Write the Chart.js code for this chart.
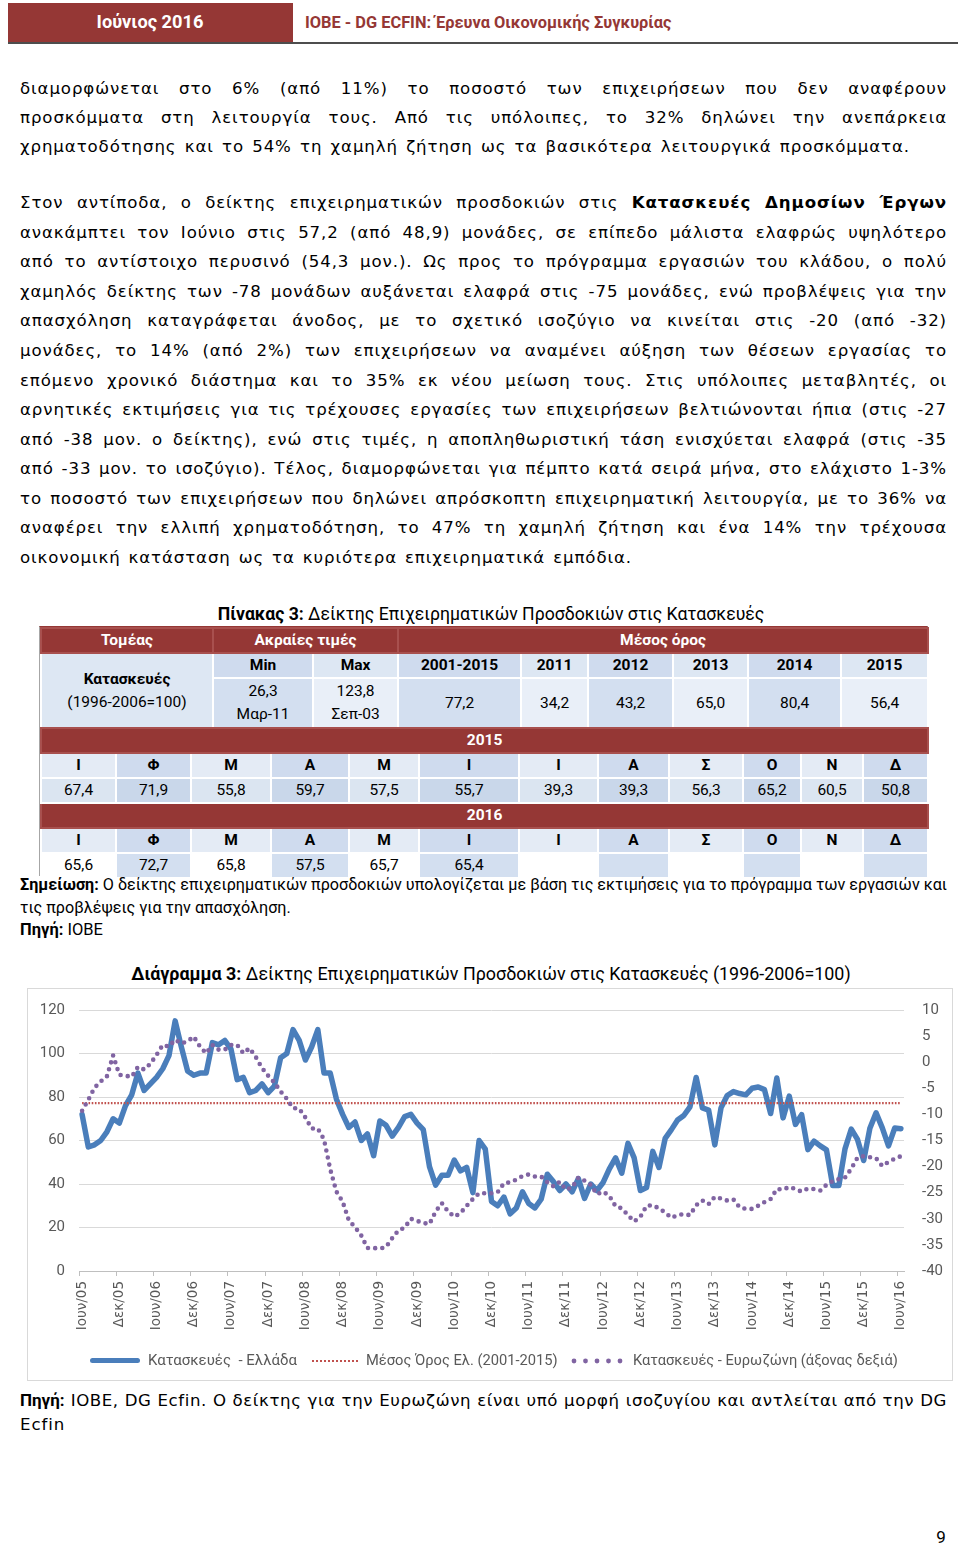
<!DOCTYPE html>
<html><head><meta charset="utf-8">
<script src="https://cdn.jsdelivr.net/npm/chart.js@4.4.1/dist/chart.umd.min.js"></script>
<style>
html,body{margin:0;padding:0}
body{width:960px;height:1548px;position:relative;background:#fff;overflow:hidden;color:#000}
.abs{position:absolute}
.fit{position:absolute;display:inline-block;white-space:nowrap;line-height:1}
.ln{position:absolute;left:20px;width:927px;line-height:30px;height:auto;font-family:"DejaVu Sans";font-size:16.6px;text-align:justify;text-align-last:justify;white-space:normal}
.ln.last{text-align:left;text-align-last:justify}
.tb{position:absolute;left:40px;border-collapse:collapse;table-layout:fixed;width:887px;font-family:Roboto;font-size:15.5px;color:#000}
.tb td{border:2px solid #fff;padding:0;text-align:center;vertical-align:middle;line-height:23px;overflow:hidden;white-space:nowrap}
.tb td.rd{background:#953735;color:#fff;font-weight:bold;border-color:#a8504e}
.b{font-weight:bold}
.h2l{background:#dde7f3}.h2d{background:#cfdbee}
.v3l{background:#e9eff8}.v3d{background:#d3dff0}
.ll{background:#e4ebf5}.ld{background:#cfdbee}
.a5l{background:#dbe5f1}.a5d{background:#c9d7ea}
.a6l{background:#ffffff}.a6d{background:#d3dff0}
.leg{font-family:Roboto;color:#595959}
</style></head>
<body>
<!-- header -->
<div class="abs" style="left:8px;top:3px;width:285px;height:40px;background:#953735"></div>
<div class="abs" style="left:8px;top:42px;width:950px;height:2px;background:#4d4d4d"></div>
<div class="fit" data-cx="150" data-cy="23" data-w="107" style="color:#fff;font-family:Roboto;font-weight:bold;font-size:19px">Ιούνιος 2016</div>
<div class="fit" data-x="305" data-cy="24" data-w="367" style="color:#953735;font-family:Roboto;font-weight:bold;font-size:17px">ΙΟΒΕ - DG ECFIN: Έρευνα Οικονομικής Συγκυρίας</div>

<!-- paragraph 1 -->
<div class="ln" data-cy="89">διαμορφώνεται στο 6% (από 11%) το ποσοστό των επιχειρήσεων που δεν αναφέρουν</div>
<div class="ln" data-cy="118">προσκόμματα στη λειτουργία τους. Από τις υπόλοιπες, το 32% δηλώνει την ανεπάρκεια</div>
<div class="ln last" data-cy="147" style="width:890px">χρηματοδότησης και το 54% τη χαμηλή ζήτηση ως τα βασικότερα λειτουργικά προσκόμματα.</div>

<!-- paragraph 2 -->
<div class="ln" data-cy="203">Στον αντίποδα, ο δείκτης επιχειρηματικών προσδοκιών στις <b>Κατασκευές Δημοσίων Έργων</b></div>
<div class="ln" data-cy="232.6">ανακάμπτει τον Ιούνιο στις 57,2 (από 48,9) μονάδες, σε επίπεδο μάλιστα ελαφρώς υψηλότερο</div>
<div class="ln" data-cy="262.2">από το αντίστοιχο περυσινό (54,3 μον.). Ως προς το πρόγραμμα εργασιών του κλάδου, ο πολύ</div>
<div class="ln" data-cy="291.7">χαμηλός δείκτης των -78 μονάδων αυξάνεται ελαφρά στις -75 μονάδες, ενώ προβλέψεις για την</div>
<div class="ln" data-cy="321.3">απασχόληση καταγράφεται άνοδος, με το σχετικό ισοζύγιο να κινείται στις -20 (από -32)</div>
<div class="ln" data-cy="350.9">μονάδες, το 14% (από 2%) των επιχειρήσεων να αναμένει αύξηση των θέσεων εργασίας το</div>
<div class="ln" data-cy="380.5">επόμενο χρονικό διάστημα και το 35% εκ νέου μείωση τους. Στις υπόλοιπες μεταβλητές, οι</div>
<div class="ln" data-cy="410.1">αρνητικές εκτιμήσεις για τις τρέχουσες εργασίες των επιχειρήσεων βελτιώνονται ήπια (στις -27</div>
<div class="ln" data-cy="439.6">από -38 μον. ο δείκτης), ενώ στις τιμές, η αποπληθωριστική τάση ενισχύεται ελαφρά (στις -35</div>
<div class="ln" data-cy="469.2">από -33 μον. το ισοζύγιο). Τέλος, διαμορφώνεται για πέμπτο κατά σειρά μήνα, στο ελάχιστο 1-3%</div>
<div class="ln" data-cy="498.8">το ποσοστό των επιχειρήσεων που δηλώνει απρόσκοπτη επιχειρηματική λειτουργία, με το 36% να</div>
<div class="ln" data-cy="528.4">αναφέρει την ελλιπή χρηματοδότηση, το 47% τη χαμηλή ζήτηση και ένα 14% την τρέχουσα</div>
<div class="ln last" data-cy="558" style="width:612px">οικονομική κατάσταση ως τα κυριότερα επιχειρηματικά εμπόδια.</div>

<!-- table title -->
<div class="fit" data-cx="491" data-cy="616" data-w="547" style="font-family:Roboto;font-size:17px"><b>Πίνακας 3:</b> Δείκτης Επιχειρηματικών Προσδοκιών στις Κατασκευές</div>

<!-- table -->
<div class="abs" style="left:39px;top:626px;width:887px;height:248px;border:1px solid #a6a6a6;border-top-color:#953735"></div>
<table class="tb" style="top:627px">
<colgroup><col style="width:172px"><col style="width:100px"><col style="width:85px"><col style="width:123px"><col style="width:67px"><col style="width:85px"><col style="width:75px"><col style="width:93px"><col style="width:87px"></colgroup>
<tr style="height:24px"><td class="rd">Τομέας</td><td class="rd" colspan="2">Ακραίες τιμές</td><td class="rd" colspan="6">Μέσος όρος</td></tr>
<tr style="height:25px"><td class="h2l" rowspan="2"><b>Κατασκευές</b><br>(1996-2006=100)</td><td class="h2d b">Min</td><td class="h2l b">Max</td><td class="h2d b">2001-2015</td><td class="h2l b">2011</td><td class="h2d b">2012</td><td class="h2l b">2013</td><td class="h2d b">2014</td><td class="h2l b">2015</td></tr>
<tr style="height:50px"><td class="v3d">26,3<br>Μαρ-11</td><td class="v3l">123,8<br>Σεπ-03</td><td class="v3d">77,2</td><td class="v3l">34,2</td><td class="v3d">43,2</td><td class="v3l">65,0</td><td class="v3d">80,4</td><td class="v3l">56,4</td></tr>
</table>
<table class="tb" style="top:727px">
<colgroup><col style="width:75px"><col style="width:75px"><col style="width:80px"><col style="width:78px"><col style="width:70px"><col style="width:100px"><col style="width:79px"><col style="width:71px"><col style="width:74px"><col style="width:58px"><col style="width:62px"><col style="width:65px"></colgroup>
<tr style="height:24px"><td class="rd" colspan="12">2015</td></tr>
<tr style="height:24px" class="b"><td class="ll">Ι</td><td class="ld">Φ</td><td class="ll">Μ</td><td class="ld">Α</td><td class="ll">Μ</td><td class="ld">Ι</td><td class="ll">Ι</td><td class="ld">Α</td><td class="ll">Σ</td><td class="ld">Ο</td><td class="ll">Ν</td><td class="ld">Δ</td></tr>
<tr style="height:24px"><td class="a5l">67,4</td><td class="a5d">71,9</td><td class="a5l">55,8</td><td class="a5d">59,7</td><td class="a5l">57,5</td><td class="a5d">55,7</td><td class="a5l">39,3</td><td class="a5d">39,3</td><td class="a5l">56,3</td><td class="a5d">65,2</td><td class="a5l">60,5</td><td class="a5d">50,8</td></tr>
<tr style="height:24px"><td class="rd" colspan="12">2016</td></tr>
<tr style="height:24px" class="b"><td class="ll">Ι</td><td class="ld">Φ</td><td class="ll">Μ</td><td class="ld">Α</td><td class="ll">Μ</td><td class="ld">Ι</td><td class="ll">Ι</td><td class="ld">Α</td><td class="ll">Σ</td><td class="ld">Ο</td><td class="ll">Ν</td><td class="ld">Δ</td></tr>
<tr style="height:24px"><td class="a6l">65,6</td><td class="a6d">72,7</td><td class="a6l">65,8</td><td class="a6d">57,5</td><td class="a6l">65,7</td><td class="a6d">65,4</td><td class="a6l"></td><td class="a6d"></td><td class="a6l"></td><td class="a6d"></td><td class="a6l"></td><td class="a6d"></td></tr>
</table>

<!-- notes -->
<div class="fit" data-x="20" data-cy="886" data-w="928" style="font-family:Roboto;font-size:15px"><b>Σημείωση:</b> Ο δείκτης επιχειρηματικών προσδοκιών υπολογίζεται με βάση τις εκτιμήσεις για το πρόγραμμα των εργασιών και</div>
<div class="fit" data-x="20" data-cy="909" data-w="271" style="font-family:Roboto;font-size:15px">τις προβλέψεις για την απασχόληση.</div>
<div class="fit" data-x="20" data-cy="931" data-w="83" style="font-family:Roboto;font-size:15px"><b>Πηγή:</b> ΙΟΒΕ</div>

<!-- chart title -->
<div class="fit" data-cx="491" data-cy="975" data-w="720" style="font-family:Roboto;font-size:18px"><b>Διάγραμμα 3:</b> Δείκτης Επιχειρηματικών Προσδοκιών στις Κατασκευές (1996-2006=100)</div>

<!-- chart box -->
<div class="abs" style="left:27px;top:988px;width:924px;height:391px;border:1px solid #d9d9d9"></div>
<div class="abs" style="left:28px;top:983px;width:924px;height:397px"><canvas id="c" width="924" height="397"></canvas></div>

<!-- legend -->
<div class="abs" style="left:90px;top:1358px;width:50px;height:5px;border-radius:3px;background:#4a7ebb"></div>
<div class="fit leg" data-x="148" data-cy="1361" data-w="149" style="font-size:15px">Κατασκευές&nbsp; - Ελλάδα</div>
<div class="abs" style="left:312px;top:1360px;width:46px;height:0;border-top:2px dotted #c0504d"></div>
<div class="fit leg" data-x="366" data-cy="1361" data-w="192" style="font-size:15px">Μέσος Όρος Ελ. (2001-2015)</div>
<svg class="abs" style="left:570px;top:1356px" width="58" height="10"><g fill="#8064a2"><circle cx="4" cy="5" r="2.4"/><circle cx="15.5" cy="5" r="2.4"/><circle cx="27" cy="5" r="2.4"/><circle cx="38.5" cy="5" r="2.4"/><circle cx="50" cy="5" r="2.4"/></g></svg>
<div class="fit leg" data-x="633" data-cy="1361" data-w="265" style="font-size:15px">Κατασκευές - Ευρωζώνη (άξονας δεξιά)</div>

<!-- source -->
<div class="ln" data-cy="1400"><span style="font-family:Roboto;font-weight:bold;font-size:17px;letter-spacing:0">Πηγή:</span> ΙΟΒΕ, DG Ecfin. Ο δείκτης για την Ευρωζώνη είναι υπό μορφή ισοζυγίου και αντλείται από την DG</div>
<div class="fit" data-x="20" data-cy="1426" style="font-family:'DejaVu Sans';font-size:16.6px;letter-spacing:0.9px">Ecfin</div>

<div class="fit" data-cx="941" data-cy="1538" style="font-family:Roboto;font-size:17px">9</div>

<script>
// ---- data ----
const monthNames = ['Ιαν','Φεβ','Μαρ','Απρ','Μαϊ','Ιουν','Ιουλ','Αυγ','Σεπ','Οκτ','Νοε','Δεκ'];
const startYear = 2005, startMonth = 5, monthCount = 133; // Ιουν/05 .. Ιουν/16
const greeceConstruction = [
 72,57,58,60,64,70,68,76,81,91,
 83,86,89,93,99,115,103,92,90,91,
 91,105,104,106,102,88,89,82,83,86,
 82,85,98,100,111,106,97,103,111,91,
 91,79,72,66,68.5,60,63,53,69,67,
 62,66,71,72,68,65,48,39.5,44,44,
 51,46,47.6,36,60,56,32,30,34,26.3,
 29,36.4,31,29,33,44.5,41,37,40,36.4,
 42.5,33.4,40,37,40.7,47,52,45,58.7,52,
 37,38.4,55,47.6,61,65,69.4,71.5,75.5,89,
 75,74,58,75,80.7,82.5,81.6,81,84,84.6,
 83.4,72.4,88.7,70.4,80.4,
 67.4,71.9,55.8,59.7,57.5,55.7,39.3,39.3,56.3,65.2,60.5,50.8,
 65.6,72.7,65.8,57.5,65.7,65.4
];
const euroConstruction = [
 -9.3,-7.2,-4.9,-3.7,-2.7,1.3,-2.4,-2.6,-2.8,-0.9,
 -1.4,-0.3,1.4,3.3,3.0,4.3,3.6,4.0,4.9,3.0,
 1.7,3.3,2.4,2.4,3.3,3.3,1.7,2.7,1.0,-1.1,
 -2.6,-3.9,-5.6,-7.0,-8.8,-8.9,-10.6,-12.7,-12.7,-14.8,
 -20.5,-24.8,-26.7,-30.3,-31.6,-33.2,-35.6,-35.6,-35.7,-35.4,
 -33.7,-32.2,-31.7,-30.0,-30.4,-30.8,-31.0,-28.6,-27.0,-28.6,
 -29.6,-28.9,-27.5,-26.2,-25.1,-25.1,-25.1,-24.9,-23.2,-23.0,
 -22.5,-21.8,-21.5,-21.9,-21.9,-23.0,-23.8,-22.9,-24.4,-24.0,
 -22.1,-22.7,-23.5,-25.3,-24.8,-25.6,-27.6,-28.0,-29.3,-30.5,
 -29.6,-27.5,-27.4,-28.0,-28.8,-29.8,-29.3,-29.1,-29.3,-27.4,
 -26.5,-27.2,-25.8,-26.1,-26.5,-26.3,-27.8,-28.1,-28.1,-27.5,
 -26.8,-26.2,-24.3,-24.4,-23.9,-24.3,-24.8,-24.2,-24.3,-24.6,
 -23.5,-22.8,-22.4,-22.1,-20.4,-18.3,-18.0,-18.2,-18.4,-19.9,
 -19.1,-18.5,-18.0
];
const greeceAverage2001_2015 = 77.2;
const leftTicks = {min:0, max:120, step:20};
const rightTicks = {min:-40, max:10, step:5};

// category labels (Ιουν/05 ... Ιουν/16)
const labels = [];
for (let k = 0; k < monthCount; k++) {
  const m = (startMonth + k) % 12, y = startYear + Math.floor((startMonth + k) / 12);
  labels.push(monthNames[m] + '/' + String(y % 100).padStart(2, '0'));
}

function layoutText(){
  document.querySelectorAll('.fit').forEach(el=>{
    let fs=parseFloat(getComputedStyle(el).fontSize);
    let r=el.getBoundingClientRect();
    if(el.dataset.w){ fs=fs*(+el.dataset.w)/r.width; el.style.fontSize=fs+'px'; r=el.getBoundingClientRect(); }
    el.style.top=(+el.dataset.cy - r.height/2 - 1)+'px';
    if(el.dataset.cx) el.style.left=(+el.dataset.cx - r.width/2)+'px'; else el.style.left=el.dataset.x+'px';
  });
  document.querySelectorAll('.ln').forEach(el=>{
    let ls=0.9; el.style.letterSpacing=ls+'px';
    while(el.getBoundingClientRect().height>45 && ls>-1.5){ ls-=0.05; el.style.letterSpacing=ls+'px'; }
    el.style.top=(+el.dataset.cy-15)+'px';
  });
}
layoutText();

const gridColor = '#d9d9d9', tickText = '#595959';
new Chart(document.getElementById('c'), {
  type:'line',
  data:{
    labels: labels,
    datasets:[
      {label:'Κατασκευές  - Ελλάδα', data:greeceConstruction, yAxisID:'y', borderColor:'#4a7ebb', borderWidth:5.5, pointRadius:0, tension:0, borderJoinStyle:'round', borderCapStyle:'round', order:3},
      {label:'Μέσος Όρος Ελ. (2001-2015)', data:[{x:labels[0], y:greeceAverage2001_2015},{x:labels[labels.length-1], y:greeceAverage2001_2015}], yAxisID:'y', borderColor:'#c0504d', borderWidth:2.2, borderDash:[1.6,1.6], pointRadius:0, order:2},
      {label:'Κατασκευές - Ευρωζώνη (άξονας δεξιά)', data:euroConstruction, yAxisID:'y2', borderColor:'#8064a2', borderWidth:4.6, borderDash:[0,7.2], borderCapStyle:'round', pointRadius:0, tension:0, order:1}
    ]
  },
  options:{
    responsive:false, animation:false, devicePixelRatio:1,
    layout:{padding:{top:13,left:0,right:0,bottom:0}},
    plugins:{legend:{display:false}, tooltip:{enabled:false}},
    scales:{
      x:{
        type:'category', offset:true,
        grid:{offset:true, drawOnChartArea:false, tickLength:5, color:(ctx)=> (ctx.index!==undefined && ctx.index%6===0) ? '#bfbfbf' : 'rgba(0,0,0,0)'},
        border:{color:'#bfbfbf', width:1},
        ticks:{autoSkip:false, maxRotation:90, minRotation:90, padding:5, color:tickText, font:{family:'DejaVu Sans', size:13.5},
          callback:(v,i)=> i%6===0 ? labels[i] : ''},
        afterFit:(s)=>{ s.height=109; }
      },
      y:{
        position:'left', min:leftTicks.min, max:leftTicks.max,
        ticks:{stepSize:leftTicks.step, padding:14, color:tickText, font:{family:'Roboto', size:15}},
        grid:{color:(ctx)=> ctx.tick && ctx.tick.value===0 ? 'rgba(0,0,0,0)' : gridColor, drawTicks:false},
        border:{display:false},
        afterFit:(s)=>{ s.width=51; }
      },
      y2:{
        position:'right', min:rightTicks.min, max:rightTicks.max,
        ticks:{stepSize:rightTicks.step, padding:18, color:tickText, font:{family:'Roboto', size:15}},
        grid:{display:false, drawTicks:false},
        border:{display:false},
        afterFit:(s)=>{ s.width=48; }
      }
    }
  }
});
</script>
</body></html>
